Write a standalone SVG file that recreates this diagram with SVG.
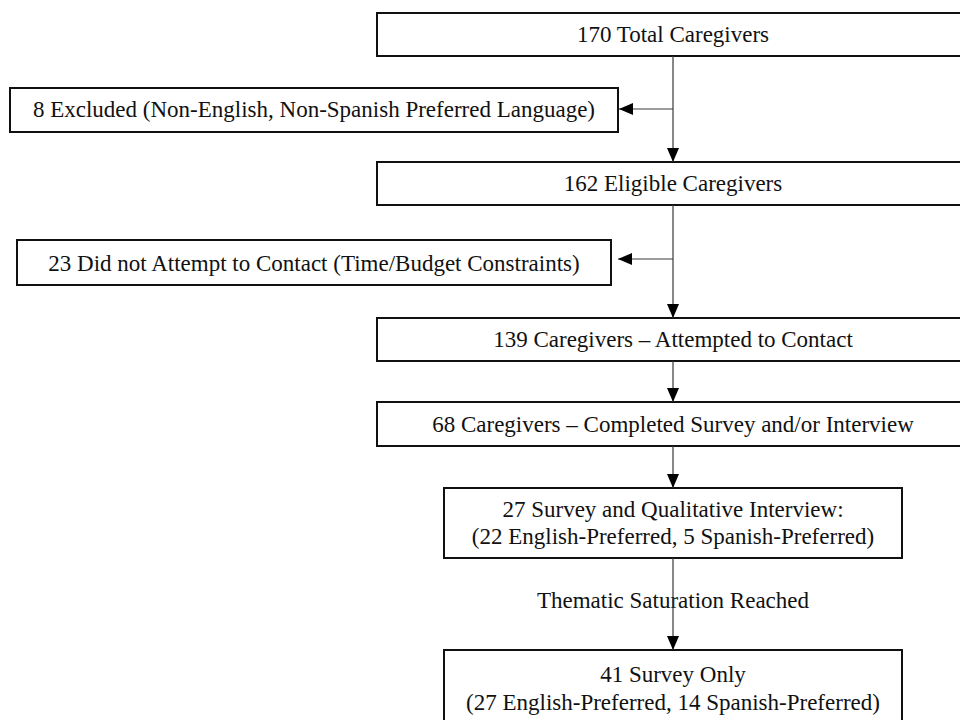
<svg xmlns="http://www.w3.org/2000/svg" width="960" height="720" viewBox="0 0 960 720">
  <style>
    .box { fill: #ffffff; stroke: #111111; stroke-width: 2; }
    .txt { font-family: "Liberation Serif", "Times New Roman", serif; font-size: 23px; fill: #111111; text-anchor: middle; }
    .conn { stroke: #3a3a3a; stroke-width: 1.2; fill: none; marker-end: url(#arrow); }
    .plain { stroke: #3a3a3a; stroke-width: 1.2; fill: none; }
  </style>
  <defs>
    <marker id="arrow" markerUnits="userSpaceOnUse" markerWidth="14" markerHeight="12" refX="14" refY="6" orient="auto">
      <path d="M0,0 L14,6 L0,12 Z" fill="#000000"/>
    </marker>
  </defs>
  <rect x="0" y="0" width="960" height="720" fill="#ffffff"/>

  <g id="node-total">
    <rect class="box" x="377" y="13" width="592" height="43"/>
    <text class="txt" x="673" y="42">170 Total Caregivers</text>
  </g>
  <g id="node-excluded">
    <rect class="box" x="10" y="88" width="608" height="44"/>
    <text class="txt" x="314" y="117">8 Excluded (Non-English, Non-Spanish Preferred Language)</text>
  </g>
  <g id="node-eligible">
    <rect class="box" x="377" y="162" width="592" height="43"/>
    <text class="txt" x="673" y="191">162 Eligible Caregivers</text>
  </g>
  <g id="node-notcontacted">
    <rect class="box" x="17" y="240" width="594" height="45"/>
    <text class="txt" x="314" y="271">23 Did not Attempt to Contact (Time/Budget Constraints)</text>
  </g>
  <g id="node-attempted">
    <rect class="box" x="377" y="318" width="592" height="43"/>
    <text class="txt" x="673" y="347">139 Caregivers – Attempted to Contact</text>
  </g>
  <g id="node-completed">
    <rect class="box" x="377" y="402" width="592" height="44"/>
    <text class="txt" x="673" y="432">68 Caregivers – Completed Survey and/or Interview</text>
  </g>
  <g id="node-interview">
    <rect class="box" x="444" y="488" width="458" height="70"/>
    <text class="txt" x="673" y="517">27 Survey and Qualitative Interview:</text>
    <text class="txt" x="673" y="544">(22 English-Preferred, 5 Spanish-Preferred)</text>
  </g>
  <g id="node-surveyonly">
    <rect class="box" x="444" y="650" width="458" height="80"/>
    <text class="txt" x="673" y="682">41 Survey Only</text>
    <text class="txt" x="673" y="710">(27 English-Preferred, 14 Spanish-Preferred)</text>
  </g>

  <g id="connectors">
    <line class="conn" x1="673" y1="56" x2="673" y2="162"/>
    <line class="conn" x1="673" y1="109" x2="619" y2="109"/>
    <line class="conn" x1="673" y1="205" x2="673" y2="318"/>
    <line class="conn" x1="673" y1="259" x2="618" y2="259"/>
    <line class="conn" x1="673" y1="361" x2="673" y2="402"/>
    <line class="conn" x1="673" y1="446" x2="673" y2="488"/>
    <text class="txt" x="673" y="608">Thematic Saturation Reached</text>
    <line class="conn" x1="673" y1="558" x2="673" y2="650"/>
  </g>
</svg>
